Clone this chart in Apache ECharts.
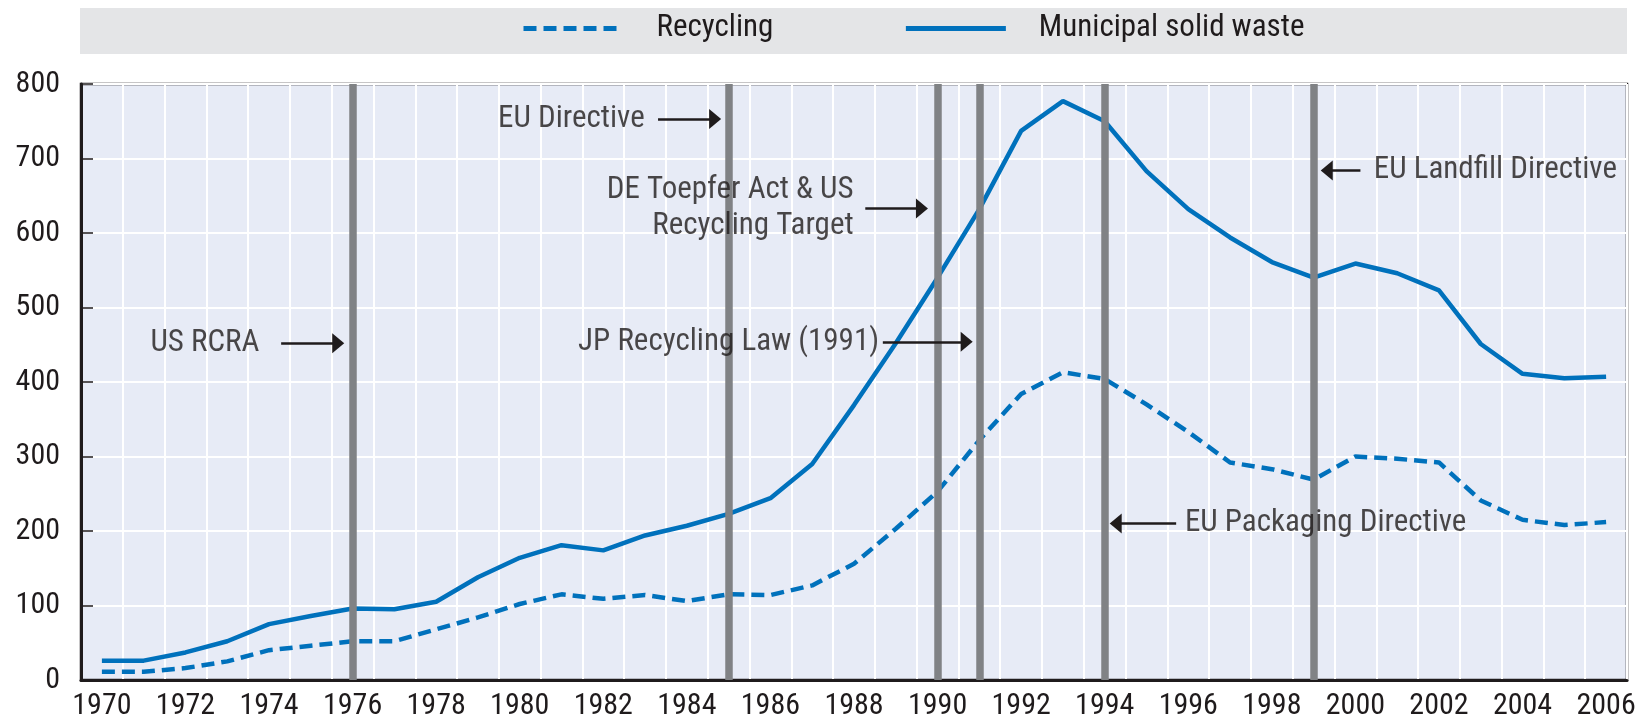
<!DOCTYPE html>
<html>
<head>
<meta charset="utf-8">
<script src="https://cdn.jsdelivr.net/npm/echarts@6/dist/echarts.min.js"></script>
<style>
  html, body { margin: 0; padding: 0; background: #ffffff; }
  #chart { width: 1644px; height: 728px; }
</style>
</head>
<body>
<div id="chart"></div>
<script>
// Years on the horizontal axis
const years = ['1970','1971','1972','1973','1974','1975','1976','1977','1978','1979',
  '1980','1981','1982','1983','1984','1985','1986','1987','1988','1989',
  '1990','1991','1992','1993','1994','1995','1996','1997','1998','1999',
  '2000','2001','2002','2003','2004','2005','2006'];

// Municipal solid waste
const municipalWaste = [26, 26, 37, 52, 75, 86, 96, 95, 105, 138,
  164, 181, 174, 194, 207, 223, 244, 290, 369, 452,
  540, 632, 737, 777, 750, 683, 632, 594, 561, 540,
  559, 546, 523, 451, 411, 405, 407];

// Recycling
const recycling = [11, 11, 16, 25, 40, 46, 52, 52, 68, 84,
  102, 115, 109, 114, 106, 115, 114, 127, 156, 203,
  253, 322, 384, 413, 404, 370, 333, 292, 283, 269,
  300, 297, 292, 241, 215, 208, 212];

// Policy milestones marked with vertical bars
const eventYears = ['1976', '1985', '1990', '1991', '1994', '1999'];

// Value-axis ticks
const yTicks = { min: 0, max: 800, step: 100 };

// Annotation layout: text anchor (x, y on the value scales) and arrow from/to
const notes = [
  { text: 'US RCRA', x: 1973.77, y: 452, side: 'left', from: 1974.29, to: 1975.80 },
  { text: 'EU Directive', x: 1982.99, y: 753, side: 'left', from: 1983.31, to: 1984.82 },
  { text: 'DE Toepfer Act & US\nRecycling Target', x: 1987.99, y: 633, side: 'left', from: 1988.27, to: 1989.77 },
  { text: 'JP Recycling Law (1991)', x: 1988.60, y: 454, side: 'left', from: 1988.69, to: 1990.84 },
  { text: 'EU Landfill Directive', x: 2000.44, y: 684, side: 'right', from: 2000.12, to: 1999.17 },
  { text: 'EU Packaging Directive', x: 1995.92, y: 210, side: 'right', from: 1995.71, to: 1994.12 }
];

const FONT = "'Roboto Condensed', 'DejaVu Sans Condensed', sans-serif";
const INK = '#1f1b1c';
const BLUE = '#0071bc';
const HEAD_LEN = 12;          // arrowhead length, px
const YEAR_PX = (1644 - 81 - 17) / years.length;
const headShift = (HEAD_LEN / 2) / YEAR_PX;

const chart = echarts.init(document.getElementById('chart'), null, { renderer: 'canvas' });

const option = {
  animation: false,
  backgroundColor: '#ffffff',
  textStyle: { fontFamily: FONT },
  graphic: [{
    type: 'rect',
    z: -1,
    shape: { x: 80, y: 8, width: 1547, height: 46 },
    style: { fill: '#e4e5e7' }
  }],
  legend: {
    left: 521,
    top: 13,
    padding: 0,
    itemGap: 130,
    itemWidth: 100,
    itemHeight: 14,
    itemStyle: { opacity: 0 },
    lineStyle: { width: 5 },
    data: ['Recycling', 'Municipal solid waste'],
    textStyle: { fontFamily: FONT, fontSize: 31, color: INK, padding: [0, 0, 0, 28] }
  },
  grid: {
    left: 81, right: 17, top: 84, bottom: 48,
    show: true,
    backgroundColor: '#e7ebf6',
    borderColor: INK,
    borderWidth: 2.5
  },
  xAxis: [{
    type: 'category',
    data: years,
    boundaryGap: true,
    axisLine: { lineStyle: { color: INK, width: 3 } },
    axisTick: { inside: true, length: 12, interval: 0, lineStyle: { color: INK, width: 1.5 } },
    axisLabel: { interval: 1, fontFamily: FONT, fontSize: 30, color: INK, margin: 11 },
    splitLine: { show: true, interval: 0, lineStyle: { color: '#ffffff', width: 2 } }
  }, {
    type: 'value',
    min: 1969.5,
    max: 2006.5,
    show: false,
    splitLine: { show: false }
  }],
  yAxis: {
    type: 'value',
    min: yTicks.min,
    max: yTicks.max,
    interval: yTicks.step,
    axisLine: { show: true, lineStyle: { color: INK, width: 3 } },
    axisTick: { show: true, inside: true, length: 12, lineStyle: { color: INK, width: 1.5 } },
    axisLabel: { fontFamily: FONT, fontSize: 30, color: INK, margin: 21 },
    splitLine: { show: true, lineStyle: { color: '#ffffff', width: 2 } }
  },
  series: [
    {
      name: 'Recycling',
      type: 'line',
      data: recycling,
      symbol: 'none',
      lineStyle: { color: BLUE, width: 4.5, type: [13, 7] },
      itemStyle: { color: BLUE },
      z: 3
    },
    {
      name: 'Municipal solid waste',
      type: 'line',
      data: municipalWaste,
      symbol: 'none',
      lineStyle: { color: BLUE, width: 4.5 },
      itemStyle: { color: BLUE },
      z: 3,
      markLine: {
        silent: true,
        symbol: 'none',
        z: 6,
        label: { show: false },
        lineStyle: { color: '#808285', width: 7.5, type: 'solid' },
        data: eventYears.map(y => ({ xAxis: y }))
      }
    },
    {
      name: 'notes',
      type: 'scatter',
      xAxisIndex: 1,
      symbolSize: 0,
      z: 10,
      silent: true,
      data: notes.map(n => ({
        value: [n.x, n.y],
        label: {
          show: true,
          formatter: n.text,
          position: n.side,
          distance: 0,
          align: n.side === 'left' ? 'right' : 'left',
          verticalAlign: 'middle',
          fontFamily: FONT,
          fontSize: 31,
          lineHeight: 36,
          color: INK
        }
      })),
      markLine: {
        silent: true,
        z: 10,
        symbol: ['none', 'triangle'],
        symbolSize: [20, HEAD_LEN],
        label: { show: false },
        lineStyle: { color: INK, width: 2.5, type: 'solid' },
        data: notes.map(n => {
          const dir = n.to > n.from ? 1 : -1;
          return [
            { coord: [n.from, n.y] },
            { coord: [n.to - dir * headShift, n.y] }
          ];
        })
      }
    }
  ]
};

chart.setOption(option);
</script>
</body>
</html>
